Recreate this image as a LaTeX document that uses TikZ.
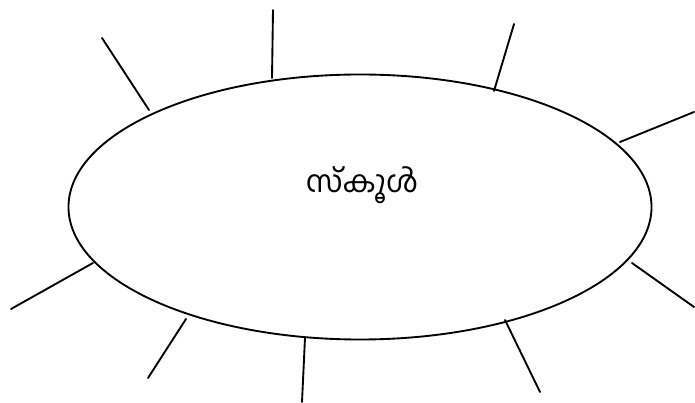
\documentclass[tikz,border=0pt]{standalone}
\usepackage{fontspec}
\newfontfamily\malfont[Script=Malayalam]{Hind Kochi}
\usetikzlibrary{shapes.geometric}

\begin{document}
\begin{tikzpicture}[x=0.03cm,y=-0.03cm,line cap=round,line join=round,
    spoke/.style={black,line width=1.6pt}]
  \useasboundingbox (0,0) rectangle (695,403);

  % Central topic.
  \node[draw,ellipse,line width=1.6pt,inner sep=0pt,
        minimum width=17.49cm,minimum height=7.95cm] (school) at (360,207) {};
  \node[font=\malfont\fontsize{26}{30}\selectfont] (title) at (362,185) {സ്കൂൾ};

  % Spoke ends: inner (near the ellipse) and outer.
  \coordinate (a1) at (149,110); \coordinate (o1) at (102,38);
  \coordinate (a2) at (272,78);  \coordinate (o2) at (273,10);
  \coordinate (a3) at (494,91);  \coordinate (o3) at (514,24);
  \coordinate (a4) at (620,142); \coordinate (o4) at (694,112);
  \coordinate (a5) at (632,263); \coordinate (o5) at (694,307);
  \coordinate (a6) at (505,320); \coordinate (o6) at (540,392);
  \coordinate (a7) at (305,338); \coordinate (o7) at (302,402);
  \coordinate (a8) at (186,319); \coordinate (o8) at (148,378);
  \coordinate (a9) at (93,263);  \coordinate (o9) at (11,309);

  % Empty spokes.
  \foreach \k in {1,...,9}
    \draw[spoke] (a\k) -- (o\k);
\end{tikzpicture}
\end{document}
